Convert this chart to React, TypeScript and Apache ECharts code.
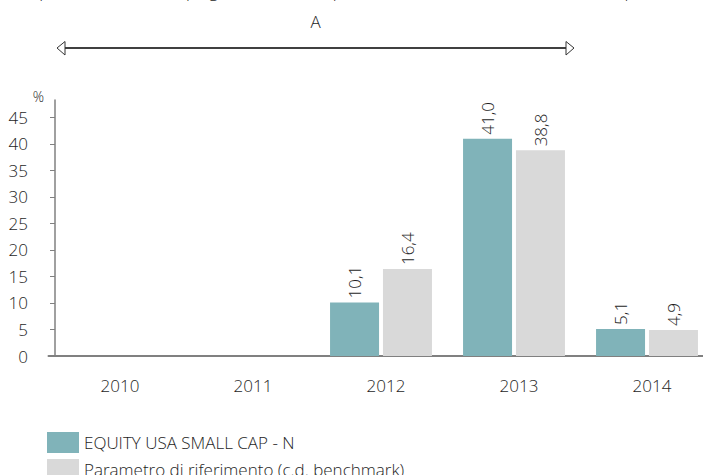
import React, { useEffect, useRef } from "react";
import * as echarts from "echarts";

const years = ["2010", "2011", "2012", "2013", "2014"];
const fundName = "EQUITY USA SMALL CAP - N";
const benchName = "Parametro di riferimento (c.d. benchmark)";
const fundValues: (number | null)[] = [null, null, 10.1, 41.0, 5.1];
const benchValues: (number | null)[] = [null, null, 16.4, 38.8, 4.9];
const yTicks = [0, 5, 10, 15, 20, 25, 30, 35, 40, 45];
const topNote = "questo contesto in quegli anni il Fondo presentava caratteristiche diverse da quelle attuali";
const periodLabel = "A";

const FONT = "'Open Sans', 'Noto Sans', sans-serif";
const TXT = "#1e1e1e";
const W = 300;

export default function App() {
  const ref = useRef<HTMLDivElement>(null);
  useEffect(() => {
    if (!ref.current) return;
    const chart = echarts.init(ref.current, undefined, { renderer: "svg" });
    const fmt = (p: any) => (p.value == null ? "" : Number(p.value).toFixed(1).replace(".", ","));
    const label = {
      show: true,
      position: "top",
      rotate: 90,
      align: "left",
      verticalAlign: "middle",
      distance: 4,
      fontSize: 17,
      fontWeight: W,
      fontFamily: FONT,
      color: TXT,
      formatter: fmt,
    };
    chart.setOption({
      animation: false,
      textStyle: { fontFamily: FONT },
      grid: { left: 48.5, width: 665, top: 100, height: 256, containLabel: false, outerBoundsMode: "none" },
      legend: {
        orient: "vertical",
        left: 47,
        top: 432,
        height: 80,
        padding: 0,
        itemWidth: 32,
        itemHeight: 21,
        itemGap: 6,
        icon: "rect",
        textStyle: { fontSize: 17, fontWeight: W, fontFamily: FONT, color: TXT },
        data: [fundName, benchName],
      },
      xAxis: {
        type: "category",
        data: years,
        axisLine: { lineStyle: { color: "#808080", width: 2 } },
        axisTick: { show: false },
        axisLabel: { fontSize: 17, fontWeight: W, fontFamily: FONT, color: TXT, margin: 21, padding: [0, 0, 0, 10] },
      },
      yAxis: {
        type: "value",
        min: 0,
        max: 48.3,
        interval: 5,
        offset: -6.5,
        splitLine: { show: false },
        axisLine: { show: true, lineStyle: { color: "#808080", width: 1.5 } },
        axisTick: { show: true, length: 5, lineStyle: { color: "#808080" }, customValues: yTicks },
        axisLabel: { fontSize: 17, fontWeight: W, fontFamily: FONT, color: TXT, margin: 27, customValues: yTicks },
      },
      series: [
        {
          name: fundName,
          type: "bar",
          data: fundValues,
          barWidth: 49,
          barGap: "8%",
          itemStyle: { color: "#80B3B9" },
          label,
        },
        {
          name: benchName,
          type: "bar",
          data: benchValues,
          barWidth: 49,
          barGap: "8%",
          itemStyle: { color: "#D9D9D9" },
          label,
        },
      ],
      graphic: [
        {
          type: "text",
          x: 33,
          y: -18,
          style: { text: topNote, fontSize: 17, fontWeight: W, fontFamily: FONT, fill: TXT, verticalAlign: "top" },
        },
        {
          type: "text",
          x: 315.5,
          y: 13,
          style: { text: periodLabel, fontSize: 17, fontWeight: W, fontFamily: FONT, fill: TXT, align: "center", verticalAlign: "top" },
        },
        {
          type: "line",
          shape: { x1: 65, y1: 48, x2: 566, y2: 48 },
          style: { stroke: "#000", lineWidth: 1.5 },
        },
        {
          type: "polygon",
          shape: { points: [[57, 48], [65, 41.5], [65, 55]] },
          style: { fill: "#fff", stroke: "#333", lineWidth: 1 },
        },
        {
          type: "polygon",
          shape: { points: [[574, 48], [566, 41.5], [566, 55]] },
          style: { fill: "#fff", stroke: "#333", lineWidth: 1 },
        },
        {
          type: "text",
          x: 44,
          y: 89,
          style: { text: "%", fontSize: 14, fontWeight: W, fontFamily: FONT, fill: TXT, align: "right", verticalAlign: "top" },
        },
      ],
    });
    return () => chart.dispose();
  }, []);
  return (
    <div
      ref={ref}
      style={{ position: "fixed", left: 0, top: 0, width: 703, height: 475, background: "#fff" }}
    />
  );
}
